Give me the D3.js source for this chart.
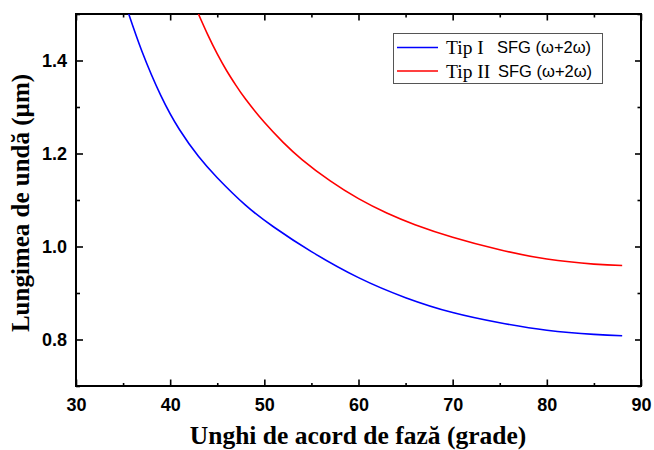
<!DOCTYPE html>
<html>
<head>
<meta charset="utf-8">
<script src="https://cdn.jsdelivr.net/npm/d3@7"></script>
<style>
  html, body { margin: 0; padding: 0; background: #ffffff; }
  svg { display: block; }
</style>
</head>
<body>
<svg id="chart" width="654" height="450"></svg>
<script>
// ---- data ----
const xTicks = [30, 40, 50, 60, 70, 80, 90];
const yTicks = [0.8, 1.0, 1.2, 1.4];
const xTickLabels = ["30", "40", "50", "60", "70", "80", "90"];
const yTickLabels = ["0.8", "1.0", "1.2", "1.4"];

const angle1 = [35.6, 37, 39, 41, 43, 45, 48, 51, 55, 60, 65, 70, 75, 80, 85, 88];
const tipI   = [1.500, 1.420, 1.325, 1.251, 1.194, 1.148, 1.089, 1.042, 0.989, 0.933, 0.890, 0.858, 0.836, 0.820, 0.811, 0.808];

const angle2 = [43, 44, 45, 46, 47, 48, 50, 52, 54, 57, 60, 63, 66, 70, 75, 80, 85, 88];
const tipII  = [1.500, 1.455, 1.414, 1.378, 1.346, 1.317, 1.267, 1.224, 1.187, 1.141, 1.103, 1.072, 1.047, 1.020, 0.993, 0.973, 0.962, 0.959];

const seriesNames = ["Tip I", "Tip II"];
const seriesSuffix = "SFG (\u03c9+2\u03c9)";
const seriesColors = ["#0000ff", "#ff0000"];

const xTitle = "Unghi de acord de faz\u0103 (grade)";
const yTitle = "Lungimea de und\u0103 (\u00b5m)";

// ---- layout ----
const svg = d3.select("#chart");
const L = 76, R = 641, T = 14, B = 386;

const x = d3.scaleLinear().domain([30, 90]).range([L, R]);
const y = d3.scaleLinear().domain([0.7, 1.5]).range([B, T]);

const g = svg.append("g");

svg.append("defs").append("clipPath").attr("id", "clip")
  .append("rect").attr("x", L).attr("y", T).attr("width", R - L).attr("height", B - T);

const xMinor = d3.range(35, 90, 10);
const yMinor = [0.7, 0.9, 1.1, 1.3, 1.5];

function axisGroup(axis, tr) {
  const a = g.append("g").attr("transform", tr).call(axis);
  a.select(".domain").remove();
  a.selectAll("line").attr("stroke", "#000").attr("stroke-width", 1.6);
  return a;
}

// bottom
const bottom = axisGroup(d3.axisBottom(x).tickValues(xTicks).tickSizeInner(-6.5).tickSizeOuter(0)
  .tickFormat((d, i) => xTickLabels[i]).tickPadding(12), `translate(0,${B})`);
bottom.selectAll("text").attr("font-family", "Liberation Sans, Arial, sans-serif")
  .attr("font-weight", "bold").attr("font-size", 18).attr("fill", "#000");
axisGroup(d3.axisBottom(x).tickValues(xMinor).tickSizeInner(-3).tickSizeOuter(0).tickFormat(""), `translate(0,${B})`);

// top
axisGroup(d3.axisTop(x).tickValues(xTicks).tickSizeInner(-6.5).tickSizeOuter(0).tickFormat(""), `translate(0,${T})`);
axisGroup(d3.axisTop(x).tickValues(xMinor).tickSizeInner(-3.5).tickSizeOuter(0).tickFormat(""), `translate(0,${T})`);

// left
const left = axisGroup(d3.axisLeft(y).tickValues(yTicks).tickSizeInner(-7).tickSizeOuter(0)
  .tickFormat((d, i) => yTickLabels[i]).tickPadding(9), `translate(${L},0)`);
left.selectAll("text").attr("font-family", "Liberation Sans, Arial, sans-serif")
  .attr("font-weight", "bold").attr("font-size", 18).attr("fill", "#000");
axisGroup(d3.axisLeft(y).tickValues(yMinor).tickSizeInner(-4).tickSizeOuter(0).tickFormat(""), `translate(${L},0)`);

// right
axisGroup(d3.axisRight(y).tickValues(yTicks).tickSizeInner(-6).tickSizeOuter(0).tickFormat(""), `translate(${R},0)`);
axisGroup(d3.axisRight(y).tickValues(yMinor).tickSizeInner(-3.5).tickSizeOuter(0).tickFormat(""), `translate(${R},0)`);

// frame
g.append("rect").attr("x", L).attr("y", T).attr("width", R - L).attr("height", B - T)
  .attr("fill", "none").attr("stroke", "#000").attr("stroke-width", 2);

// curves
const line = d3.line().x(d => x(d[0])).y(d => y(d[1])).curve(d3.curveNatural);
const data1 = angle1.map((a, i) => [a, tipI[i]]);
const data2 = angle2.map((a, i) => [a, tipII[i]]);
[data1, data2].forEach((d, i) => {
  g.append("path").datum(d).attr("d", line).attr("clip-path", "url(#clip)")
    .attr("fill", "none").attr("stroke", seriesColors[i]).attr("stroke-width", 1.6);
});

// legend
const lg = g.append("g");
lg.append("rect").attr("x", 393.5).attr("y", 33.5).attr("width", 209).attr("height", 50)
  .attr("fill", "#fff").attr("stroke", "#555").attr("stroke-width", 1);
const rowsY = [47.5, 71];
seriesNames.forEach((name, i) => {
  lg.append("line").attr("x1", 397).attr("x2", 438).attr("y1", rowsY[i]).attr("y2", rowsY[i])
    .attr("stroke", seriesColors[i]).attr("stroke-width", 1.6);
  lg.append("text").attr("x", 446).attr("y", rowsY[i] + 6.5)
    .attr("font-family", "Liberation Serif, Times New Roman, serif").attr("font-size", 19.5)
    .attr("fill", "#000").text(name);
  lg.append("text").attr("x", i === 0 ? 497 : 498).attr("y", rowsY[i] + 5.5)
    .attr("font-family", "Liberation Sans, Arial, sans-serif").attr("font-size", 16.5)
    .attr("fill", "#000").text(seriesSuffix);
});

// titles
g.append("text").attr("x", 358).attr("y", 444).attr("text-anchor", "middle")
  .attr("font-family", "Liberation Serif, Times New Roman, serif").attr("font-weight", "bold")
  .attr("font-size", 25.5).attr("fill", "#000").text(xTitle);

g.append("text").attr("transform", "translate(29,203) rotate(-90)").attr("text-anchor", "middle")
  .attr("font-family", "Liberation Serif, Times New Roman, serif").attr("font-weight", "bold")
  .attr("font-size", 25).attr("fill", "#000").text(yTitle);
</script>
</body>
</html>
